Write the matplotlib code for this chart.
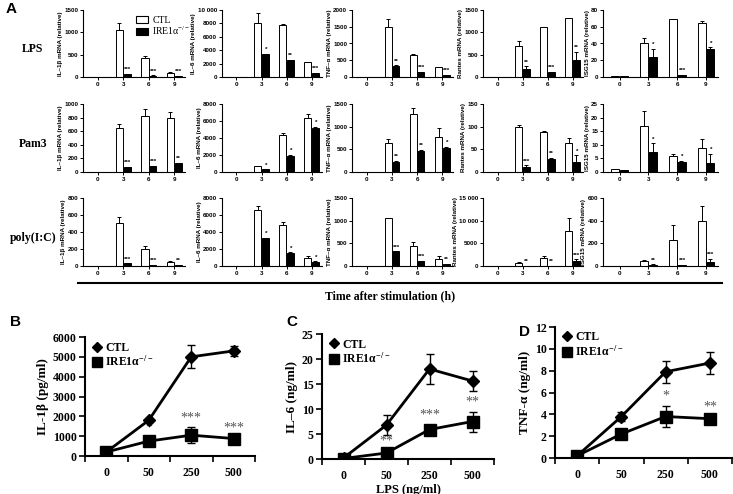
import numpy as np
import matplotlib
matplotlib.use("Agg")
import matplotlib.pyplot as plt
from matplotlib.lines import Line2D
from matplotlib.patches import Patch
from matplotlib.ticker import FuncFormatter

plt.rcParams['mathtext.fontset'] = 'custom'
plt.rcParams['mathtext.rm'] = 'Liberation Serif'
plt.rcParams['mathtext.bf'] = 'Liberation Serif:bold'
plt.rcParams['mathtext.default'] = 'regular'

# ---------------- data: panel A ----------------
TIMES = ["0", "3", "6", "9"]
ROWS = ["LPS", "Pam3", "poly(I:C)"]
GENE_LABELS = ["IL\u20131\u03b2 mRNA (relative)", "IL\u20136 mRNA (relative)",
               "TNF\u2013\u03b1 mRNA (relative)", "Rantes mRNA (relative)",
               "ISG15 mRNA (relative)"]

LPS_CTL = [[2, 1050, 420, 100], [0, 8000, 7700, 2200], [0, 1480, 670, 290],
           [0, 690, 1110, 1310], [1, 40, 69, 64]]
LPS_CTL_ERR = [[0, 170, 60, 10], [0, 1500, 200, 100], [0, 260, 10, 10],
               [0, 120, 10, 10], [0, 7, 0.5, 2.5]]
LPS_KO = [[1, 60, 30, 15], [0, 3400, 2500, 600], [0, 330, 140, 50],
          [0, 170, 110, 390], [1, 24, 2, 34]]
LPS_KO_ERR = [[0, 5, 5, 5], [0, 80, 80, 50], [0, 20, 10, 10],
              [0, 70, 10, 170], [0, 10, 0.5, 1.5]]
LPS_STARS = [["", "***", "***", "***"], ["", "*", "**", "***"], ["", "**", "***", "***"],
             ["", "**", "***", "**"], ["", "*", "***", "*"]]
LPS_YTICKS = [[0, 500, 1000, 1500], [0, 2000, 4000, 6000, 8000, 10000],
              [0, 500, 1000, 1500, 2000], [0, 500, 1000, 1500], [0, 20, 40, 60, 80]]

PAM_CTL = [[3, 650, 830, 800], [0, 700, 4400, 6400], [0, 650, 1280, 780],
           [1, 100, 88, 65], [1, 17, 6, 8.7]]
PAM_CTL_ERR = [[0, 60, 100, 80], [0, 50, 200, 400], [0, 80, 130, 200],
               [0, 3, 2, 10], [0, 5.5, 0.7, 3.3]]
PAM_KO = [[2, 70, 85, 125], [0, 300, 1900, 5200], [0, 230, 460, 520],
          [1, 12, 28, 22], [0.8, 7.5, 3.5, 3.4]]
PAM_KO_ERR = [[0, 5, 10, 10], [0, 30, 100, 100], [0, 20, 30, 30],
              [0, 3, 3, 15], [0, 3, 0.7, 3.3]]
PAM_STARS = [["", "***", "***", "**"], ["", "*", "*", "*"], ["", "**", "**", "*"],
             ["", "***", "**", "*"], ["", "*", "*", "*"]]
PAM_YTICKS = [[0, 200, 400, 600, 800, 1000], [0, 2000, 4000, 6000, 8000],
              [0, 500, 1000, 1500], [0, 50, 100, 150], [0, 5, 10, 15, 20, 25]]

POLY_CTL = [[0, 510, 205, 45], [0, 6600, 4800, 1000], [0, 1050, 450, 160],
            [0, 700, 1700, 7800], [0, 45, 230, 400]]
POLY_CTL_ERR = [[0, 70, 30, 10], [0, 400, 400, 200], [0, 0, 80, 70],
                [0, 200, 500, 2700], [0, 5, 130, 125]]
POLY_KO = [[0, 30, 10, 8], [0, 3300, 1500, 500], [0, 320, 100, 40],
           [0, 100, 100, 1200], [0, 12, 8, 35]]
POLY_KO_ERR = [[0, 0, 5, 3], [0, 0, 100, 50], [0, 0, 10, 10],
               [0, 0, 0, 300], [0, 3, 2, 30]]
POLY_STARS = [["", "***", "***", "**"], ["", "*", "*", "*"], ["", "***", "***", "**"],
              ["", "**", "**", "***"], ["", "**", "***", "***"]]
POLY_YTICKS = [[0, 200, 400, 600, 800], [0, 2000, 4000, 6000, 8000],
               [0, 500, 1000, 1500], [0, 5000, 10000, 15000], [0, 200, 400, 600]]

# ---------------- data: panels B-D ----------------
DOSES = ["0", "50", "250", "500"]
B_CTL = [200, 1800, 5000, 5300]
B_CTL_ERR = [60, 100, 580, 250]
B_KO = [200, 750, 1050, 880]
B_KO_ERR = [60, 200, 400, 100]
B_STARS = ["", "*", "***", "***"]

C_CTL = [0.2, 6.8, 18.0, 15.6]
C_CTL_ERR = [0.1, 2.0, 3.0, 2.0]
C_KO = [0.1, 1.2, 5.9, 7.5]
C_KO_ERR = [0.1, 0.5, 1.0, 2.0]
C_STARS = ["", "**", "***", "**"]

D_CTL = [0.2, 3.8, 7.9, 8.7]
D_CTL_ERR = [0.1, 0.4, 1.0, 1.0]
D_KO = [0.2, 2.2, 3.8, 3.6]
D_KO_ERR = [0.1, 0.4, 1.0, 0.2]
D_STARS = ["", "", "*", "**"]

# ---------------- figure ----------------
W, H = 733, 494
fig = plt.figure(figsize=(W / 100, H / 100), dpi=100)
SANS = 'Liberation Sans'
SERIF = 'Liberation Serif'


def add_ax(l, t, r, b):
    return fig.add_axes([l / W, 1 - b / H, (r - l) / W, (b - t) / H])


def fmt_thousands(v, pos):
    v = int(round(v))
    if v >= 10000:
        s = f"{v:d}"
        return s[:-3] + " " + s[-3:]
    return f"{v:d}"


COLS = [(83, 185), (222, 322), (352, 453), (483, 583), (603, 718)]
ROW_Y = [(10, 77), (104, 172), (198, 266)]
ROW_DATA = [
    (LPS_CTL, LPS_CTL_ERR, LPS_KO, LPS_KO_ERR, LPS_STARS, LPS_YTICKS),
    (PAM_CTL, PAM_CTL_ERR, PAM_KO, PAM_KO_ERR, PAM_STARS, PAM_YTICKS),
    (POLY_CTL, POLY_CTL_ERR, POLY_KO, POLY_KO_ERR, POLY_STARS, POLY_YTICKS),
]

x = np.arange(4)
wbar = 0.28
for ri, (ctl, ctle, ko, koe, stars, yt) in enumerate(ROW_DATA):
    t, b = ROW_Y[ri]
    for ci in range(5):
        l, r = COLS[ci]
        ax = add_ax(l, t, r, b)
        z = np.zeros(4)
        ax.bar(x - 0.15, ctl[ci], wbar, color='white', edgecolor='black', lw=0.7,
               yerr=[z, ctle[ci]], error_kw=dict(lw=0.7, capsize=1.6, capthick=0.7),
               zorder=2)
        ax.bar(x + 0.15, ko[ci], wbar, color='black', edgecolor='black', lw=0.7,
               yerr=[z, koe[ci]], error_kw=dict(lw=0.7, capsize=1.6, capthick=0.7),
               zorder=2)
        ymax = yt[ci][-1]
        for k in range(4):
            if stars[ci][k]:
                ax.text(x[k] + 0.17, ko[ci][k] + koe[ci][k] + 0.025 * ymax, stars[ci][k],
                        ha='center', va='bottom', fontsize=4.5, fontweight='bold',
                        family=SANS)
        ax.set_xlim(-0.58, 3.42)
        ax.set_ylim(0, ymax)
        ax.set_yticks(yt[ci])
        ax.yaxis.set_major_formatter(FuncFormatter(fmt_thousands))
        ax.set_xticks(x)
        ax.set_xticklabels(TIMES)
        for s in ['top', 'right']:
            ax.spines[s].set_visible(False)
        for s in ['left', 'bottom']:
            ax.spines[s].set_linewidth(0.8)
        ax.tick_params(axis='both', labelsize=4.5, width=0.7, length=2, pad=1.5)
        for lab in ax.get_xticklabels() + ax.get_yticklabels():
            lab.set_fontweight('bold')
            lab.set_family(SANS)
        ax.set_ylabel(GENE_LABELS[ci], fontsize=4.5, fontweight='bold', family=SANS,
                      labelpad=1.0)
        if ri == 0 and ci == 0:
            handles = [Patch(facecolor='white', edgecolor='black', lw=0.8),
                       Patch(facecolor='black', edgecolor='black', lw=0.8)]
            fig.legend(handles, ['CTL', 'IRE1\u03b1$^{\u2212/\u2212}$'],
                       loc='upper left', bbox_to_anchor=(130 / W, 1 - 10 / H),
                       frameon=False, prop={'family': SERIF, 'size': 7},
                       handlelength=1.2, handleheight=0.75, handletextpad=0.5,
                       labelspacing=0.0, borderpad=0.1)

# row labels and panel letters
for ri, name in enumerate(ROWS):
    t, b = ROW_Y[ri]
    fig.text(33 / W, 1 - ((t + b) / 2 + 6) / H, name, ha='center', va='center',
             fontsize=8.5, fontweight='bold', family=SERIF)
fig.text(6 / W, 1 - 9 / H, 'A', fontsize=11, fontweight='bold', family=SANS,
         va='center', ha='left')
fig.add_artist(Line2D([78 / W, 722 / W], [1 - 283 / H, 1 - 283 / H], color='black',
                      lw=1.5))
fig.text(390 / W, 1 - 296 / H, 'Time after stimulation (h)', ha='center', va='center',
         fontsize=8.5, fontweight='bold', family=SERIF)

# ---------------- panels B-D ----------------
PANELS = [
    ((85, 337, 255, 456), B_CTL, B_CTL_ERR, B_KO, B_KO_ERR, B_STARS,
     list(range(0, 6001, 1000)), 'IL-1\u03b2 (pg/ml)', 'B', (10, 322), ''),
    ((322, 334, 494, 459), C_CTL, C_CTL_ERR, C_KO, C_KO_ERR, C_STARS,
     list(range(0, 26, 5)), 'IL\u20136 (ng/ml)', 'C', (286, 322), 'LPS (ng/ml)'),
    ((555, 327, 732, 458), D_CTL, D_CTL_ERR, D_KO, D_KO_ERR, D_STARS,
     list(range(0, 13, 2)), 'TNF-\u03b1 (ng/ml)', 'D', (519, 332), ''),
]
for (box, ctl, ctle, ko, koe, stars, yt, ylab, letter, lpos, xlab) in PANELS:
    ax = add_ax(*box)
    ymax = yt[-1]
    ax.errorbar(x, ctl, yerr=ctle, color='black', lw=2, marker='D', ms=6,
                capsize=3, elinewidth=1, capthick=1, zorder=3)
    ax.errorbar(x, ko, yerr=koe, color='black', lw=2, marker='s', ms=8,
                capsize=3, elinewidth=1, capthick=1, zorder=3)
    for k in range(4):
        if stars[k]:
            ax.text(x[k], ko[k] + koe[k] + 0.02 * ymax, stars[k], ha='center',
                    va='bottom', fontsize=10, color='#555555', family=SERIF)
    ax.set_xlim(-0.5, 3.5)
    ax.set_ylim(0, ymax)
    ax.set_yticks(yt)
    ax.set_xticks(x)
    ax.set_xticklabels(DOSES)
    ax.set_xticks([-0.5, 0.5, 1.5, 2.5, 3.5], minor=True)
    ax.tick_params(axis='x', which='major', length=0, pad=8, labelsize=8.5)
    ax.tick_params(axis='x', which='minor', length=4, width=1.2)
    ax.tick_params(axis='y', length=4, width=1.2, labelsize=8.5, pad=2)
    for lab in ax.get_xticklabels() + ax.get_yticklabels():
        lab.set_fontweight('bold')
        lab.set_family(SERIF)
    for s in ['top', 'right']:
        ax.spines[s].set_visible(False)
    for s in ['left', 'bottom']:
        ax.spines[s].set_linewidth(1.5)
    ax.set_ylabel(ylab, fontsize=9.5, fontweight='bold', family=SERIF, labelpad=3)
    if xlab:
        ax.set_xlabel(xlab, fontsize=9, fontweight='bold', family=SERIF, labelpad=1)
    handles = [Line2D([], [], marker='D', color='black', ls='none', ms=5.5),
               Line2D([], [], marker='s', color='black', ls='none', ms=6.5)]
    ax.legend(handles, ['CTL', 'IRE1\u03b1$^{\u2212/\u2212}$'], loc='upper left',
              bbox_to_anchor=(0.0, 1.02), frameon=False,
              prop={'family': SERIF, 'size': 8.5, 'weight': 'bold'},
              handlelength=0.8, handletextpad=0.3, labelspacing=0.05, borderpad=0.1)
    fig.text(lpos[0] / W, 1 - lpos[1] / H, letter, fontsize=11, fontweight='bold',
             family=SANS, va='center', ha='left')

fig.savefig('out.png', dpi=100)
